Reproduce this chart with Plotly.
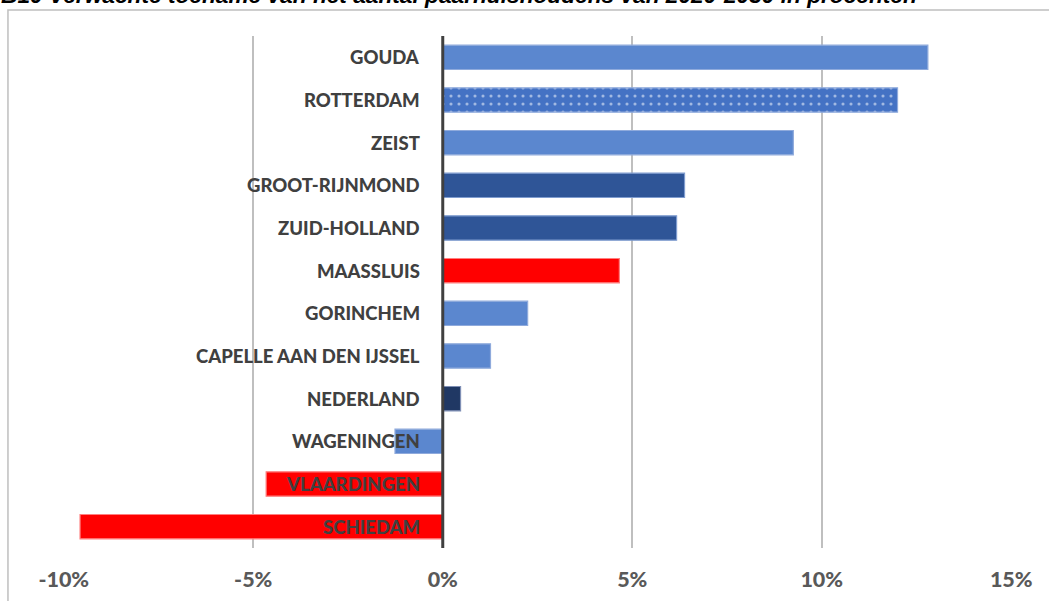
import plotly.graph_objects as go

# Expected growth of couple households 2020-2030, in percent
gebieden = ["GOUDA", "ROTTERDAM", "ZEIST", "GROOT-RIJNMOND", "ZUID-HOLLAND",
            "MAASSLUIS", "GORINCHEM", "CAPELLE AAN DEN IJSSEL", "NEDERLAND",
            "WAGENINGEN", "VLAARDINGEN", "SCHIEDAM"]
toename = [12.8, 12.0, 9.25, 6.38, 6.17, 4.66, 2.24, 1.26, 0.47, -1.26, -4.66, -9.57]

tick_vals = [-10, -5, 0, 5, 10, 15]
tick_text = ["-10%", "-5%", "0%", "5%", "10%", "15%"]

title_text = "B10 Verwachte toename van het aantal paarhuishoudens van 2020-2030 in procenten"

LICHT = "#5B87CF"
DONKER = "#2F5597"
NL = "#203864"
ROOD = "#FF0000"
kleuren = [LICHT, "#4472C4", LICHT, DONKER, DONKER, ROOD, LICHT, LICHT, NL, LICHT, ROOD, ROOD]
randen = ["#8FAADC", "#8FAADC", "#8FAADC", "#7F9CCF", "#7F9CCF", "#FF7F7F",
          "#8FAADC", "#8FAADC", "#7F8FB5", "#8FAADC", "#FF7F7F", "#FF7F7F"]
patronen = ["", ".", "", "", "", "", "", "", "", "", "", ""]

LABEL_FONT = "Lato, sans-serif"

fig = go.Figure()
fig.add_trace(go.Bar(
    y=gebieden, x=toename, orientation="h", width=0.57,
    marker=dict(color=kleuren, line=dict(color=randen, width=1.2),
                pattern=dict(shape=patronen, fgcolor="white", size=8, solidity=0.12)),
    hoverinfo="x+y",
))

# category names drawn inside the plot, right-aligned against the zero line
for naam in gebieden:
    fig.add_annotation(x=0, y=naam, xref="x", yref="y", text=naam, showarrow=False,
                       xanchor="right", yanchor="middle", xshift=-21,
                       font=dict(family=LABEL_FONT, size=18.5, color="#404040", weight=900))

# zero line on top of the bars
fig.add_shape(type="line", xref="x", yref="paper", x0=0, x1=0, y0=0, y1=1,
              line=dict(color="#404040", width=3), layer="above")

# chart area frame
fig.add_shape(type="rect", xref="paper", yref="paper", x0=-0.058, x1=1.05, y0=-0.2, y1=1.0508,
              line=dict(color="#BFBFBF", width=1.5), layer="below")

fig.add_annotation(x=0, xref="paper", y=1, yref="paper", xanchor="left", yanchor="bottom",
                   xshift=-64, yshift=26, text=title_text, showarrow=False,
                   font=dict(family="Liberation Sans", size=22.7, color="black",
                             style="italic", weight="bold"))

fig.update_layout(
    width=1049, height=601,
    margin=dict(l=63, r=37, t=36, b=53),
    paper_bgcolor="white", plot_bgcolor="white",
    showlegend=False,
    bargap=0.43,
    xaxis=dict(range=[-10.02, 15.02], tickvals=tick_vals, ticktext=tick_text,
               showgrid=True, gridcolor="#BFBFBF", gridwidth=1.5, zeroline=False,
               ticks="", ticklabelstandoff=16, automargin=False,
               tickfont=dict(family=LABEL_FONT, size=21.5, color="#595959", weight=900)),
    yaxis=dict(autorange="reversed", showticklabels=False, showgrid=False, zeroline=False,
               ticks="", automargin=False),
)

fig.write_html("out.html")
